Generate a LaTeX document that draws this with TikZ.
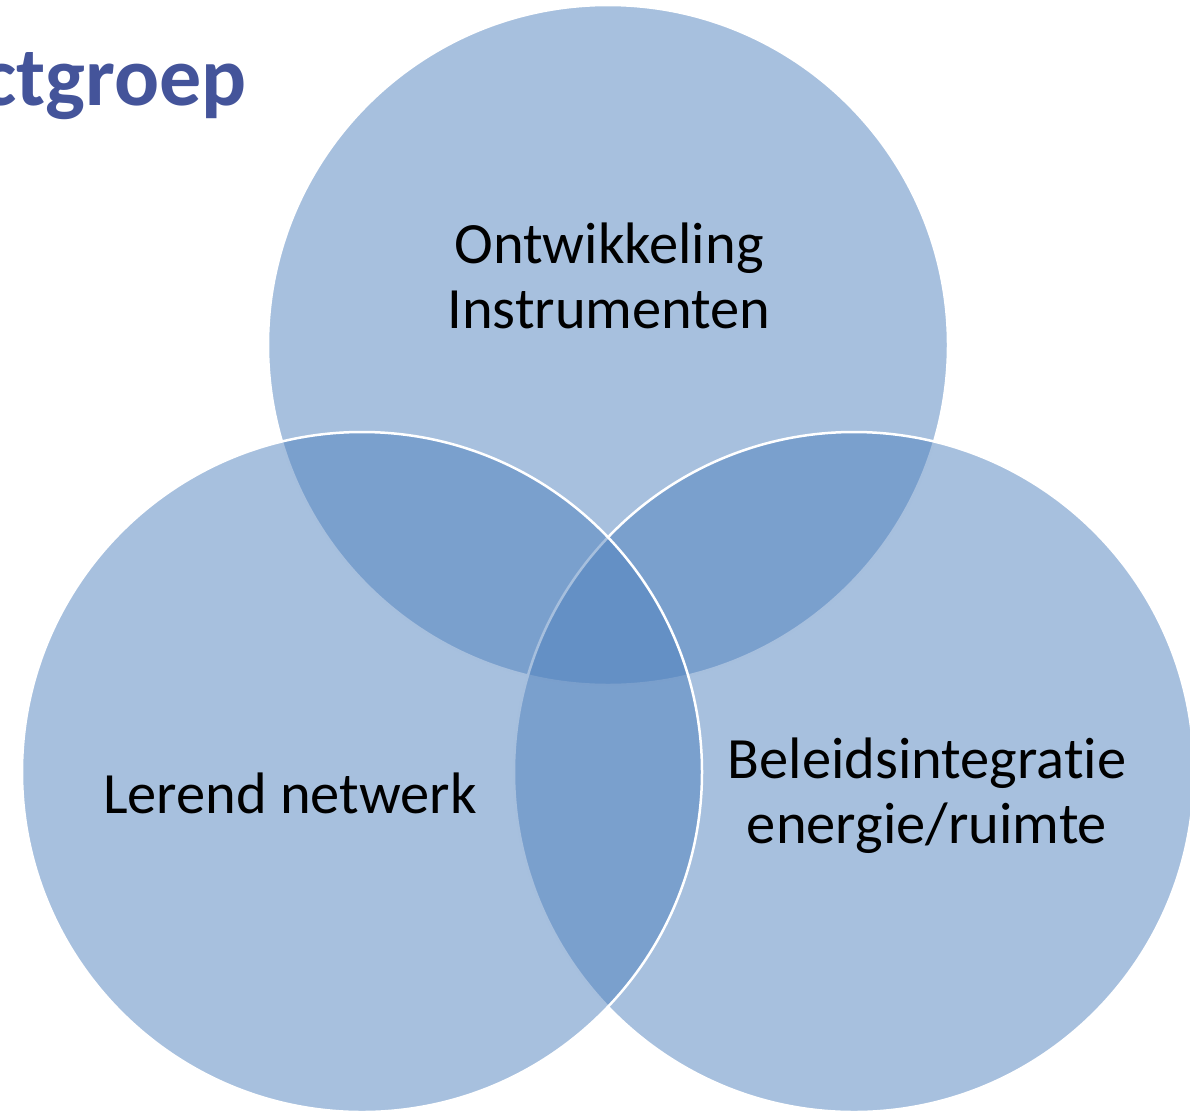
\documentclass[tikz,border=0pt]{standalone}
\usepackage{fontspec}
\setmainfont{Carlito}[Ligatures=CommonOff]
\begin{document}
\begin{tikzpicture}[x=1pt,y=-1pt,
  venn/.style={fill={rgb,255:red,79;green,129;blue,189},fill opacity=0.5,draw=white,line width=2.5pt},
  lbl/.style={font=\fontsize{58.5}{65}\selectfont,text=black,align=center,anchor=base},
  ttl/.style={font=\fontsize{84}{90}\selectfont\bfseries,text={rgb,255:red,68;green,84;blue,154},anchor=base east,inner sep=0pt}]
\useasboundingbox (0,0) rectangle (1190,1112);
\clip (0,0) rectangle (1190,1112);
\node[ttl] (title) at (247,105) {Projectgroep};
\path[venn] (608,345) circle (340);
\path[venn] (854,772) circle (340);
\path[venn] (362,772) circle (340);
\node[lbl] (top) at (609,328) {Ontwikkeling\\Instrumenten};
\node[lbl] (left) at (290,813) {Lerend netwerk};
\node[lbl] (right) at (927,843) {Beleidsintegratie\\energie/ruimte};
\end{tikzpicture}
\end{document}
